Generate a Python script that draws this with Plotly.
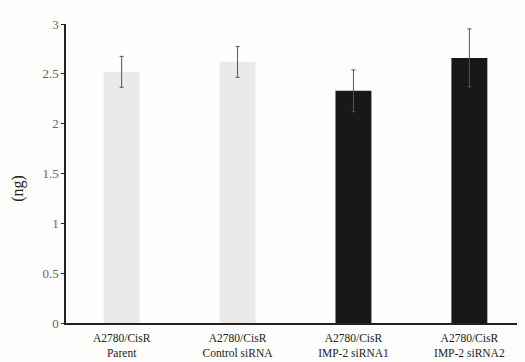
import plotly.graph_objects as go

categories = ["A2780/CisR<br>Parent", "A2780/CisR<br>Control siRNA",
              "A2780/CisR<br>IMP-2 siRNA1", "A2780/CisR<br>IMP-2 siRNA2"]
values = [2.52, 2.62, 2.33, 2.66]
errors = [0.155, 0.155, 0.21, 0.29]
colors = ["#ece9e9", "#ece9e9", "#1a1816", "#1a1816"]
y_ticks = [0, 0.5, 1, 1.5, 2, 2.5, 3]
y_title = "(ng)"

fig = go.Figure(go.Bar(
    x=list(range(len(categories))), y=values,
    marker=dict(color=colors, line=dict(width=0)),
    error_y=dict(type="data", array=errors, color="#555555", thickness=1, width=2),
    width=0.31,
))

# page body has an 8px default margin, so the figure is 8px smaller
fig.update_layout(
    width=517, height=354,
    margin=dict(l=58, r=0, t=16, b=39),
    paper_bgcolor="#fdfdfc", plot_bgcolor="#fdfdfc",
    font=dict(family="Liberation Serif", color="#222222"),
    showlegend=False,
    xaxis=dict(
        range=[-0.48, 3.48], tickmode="array",
        tickvals=list(range(len(categories))), ticktext=categories,
        showline=True, linecolor="#222222", linewidth=1.5,
        ticks="", showgrid=False, zeroline=False, automargin=False,
        ticklabelstandoff=3,
        tickfont=dict(size=11.5, color="#222222"),
    ),
    yaxis=dict(
        range=[0, 3], tickmode="array", tickvals=y_ticks,
        ticktext=[("%g" % v) for v in y_ticks],
        showline=True, linecolor="#222222", linewidth=1.5,
        ticks="outside", ticklen=3, tickcolor="#222222",
        showgrid=False, zeroline=False, automargin=False,
        tickfont=dict(size=13, color="#666666"),
    ),
    annotations=[dict(
        text=y_title, xref="paper", yref="paper", x=-0.105, y=0.4515,
        textangle=-90, showarrow=False, xanchor="center", yanchor="middle",
        font=dict(size=16, color="#222222"),
    )],
)

fig.write_html("out.html", post_script="document.body.style.background='#fdfdfc';")
